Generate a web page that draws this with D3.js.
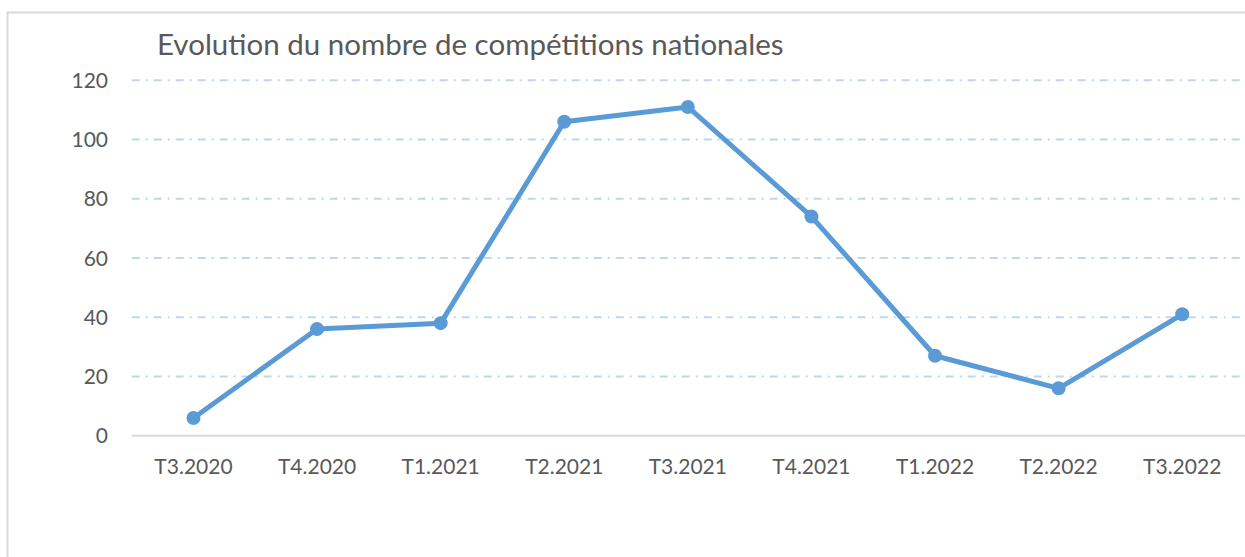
<!DOCTYPE html>
<html>
<head>
<meta charset="utf-8">
<script src="https://cdn.jsdelivr.net/npm/d3@7"></script>
<style>
  html, body { margin: 0; padding: 0; background: #fff; }
  text { font-family: Lato, "Open Sans", sans-serif; fill: #595959; }
</style>
</head>
<body>
<div id="chart"></div>
<script>
var quarters = ["T3.2020", "T4.2020", "T1.2021", "T2.2021", "T3.2021", "T4.2021", "T1.2022", "T2.2022", "T3.2022"];
var competitions = [6, 36, 38, 106, 111, 74, 27, 16, 41];
var yTicks = [0, 20, 40, 60, 80, 100, 120];
var title = "Evolution du nombre de compétitions nationales";

var width = 1245,
    height = 557,
    margin = { left: 131.7, top: 80.3, right: 1, bottom: 121.3 };

var svg = d3.select("#chart").append("svg")
    .attr("width", width)
    .attr("height", height);

// chart frame
svg.append("rect")
    .attr("x", 7.5).attr("y", 12.5)
    .attr("width", width + 10).attr("height", height + 10)
    .attr("fill", "none")
    .attr("stroke", "#d9d9d9")
    .attr("stroke-width", 2);

svg.append("text")
    .attr("x", 157).attr("y", 55)
    .attr("font-size", 29.5)
    .text(title);

var x = d3.scaleBand()
    .domain(quarters)
    .range([margin.left, width - margin.right]);

var y = d3.scaleLinear()
    .domain([0, 120])
    .range([height - margin.bottom, margin.top]);

// gridlines
svg.append("g").selectAll("line")
    .data(yTicks.filter(function(d) { return d > 0; }))
    .join("line")
    .attr("x1", margin.left).attr("x2", 1240)
    .attr("y1", function(d) { return y(d); })
    .attr("y2", function(d) { return y(d); })
    .attr("stroke", "#bdd7ee")
    .attr("stroke-width", 2)
    .attr("stroke-dasharray", "8,6,2,6");

// x axis line
svg.append("line")
    .attr("x1", margin.left).attr("x2", width)
    .attr("y1", y(0)).attr("y2", y(0))
    .attr("stroke", "#d9d9d9")
    .attr("stroke-width", 2);

// y labels
svg.append("g").selectAll("text")
    .data(yTicks)
    .join("text")
    .attr("x", 108)
    .attr("y", function(d) { return y(d); })
    .attr("dy", "0.36em")
    .attr("text-anchor", "end")
    .attr("font-size", 21)
    .text(function(d) { return d; });

// x labels
svg.append("g").selectAll("text")
    .data(quarters)
    .join("text")
    .attr("x", function(d) { return x(d) + x.bandwidth() / 2; })
    .attr("y", 474)
    .attr("text-anchor", "middle")
    .attr("font-size", 21)
    .text(function(d) { return d; });

var pts = quarters.map(function(q, i) { return { q: q, v: competitions[i] }; });

var line = d3.line()
    .x(function(d) { return x(d.q) + x.bandwidth() / 2; })
    .y(function(d) { return y(d.v); });

svg.append("path")
    .datum(pts)
    .attr("d", line)
    .attr("fill", "none")
    .attr("stroke", "#5b9bd5")
    .attr("stroke-width", 5)
    .attr("stroke-linejoin", "round");

svg.append("g").selectAll("circle")
    .data(pts)
    .join("circle")
    .attr("cx", function(d) { return x(d.q) + x.bandwidth() / 2; })
    .attr("cy", function(d) { return y(d.v); })
    .attr("r", 7)
    .attr("fill", "#5b9bd5");
</script>
</body>
</html>
